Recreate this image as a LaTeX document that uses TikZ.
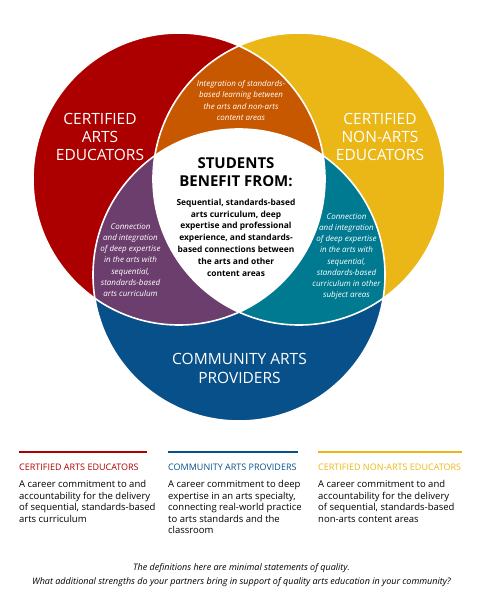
\documentclass[tikz,border=0pt]{standalone}
\usepackage{fontspec}
\setmainfont{Open Sans}
\usetikzlibrary{positioning}
\definecolor{artsred}{RGB}{172,0,0}
\definecolor{nonartsyellow}{RGB}{234,183,22}
\definecolor{commblue}{RGB}{8,80,138}
\definecolor{mixorange}{RGB}{200,88,0}
\definecolor{mixpurple}{RGB}{108,62,110}
\definecolor{mixteal}{RGB}{0,122,144}
\tikzset{
 biglabel/.style={text=white, align=center, inner sep=0, font=\fontsize{15.5}{18.3}\selectfont},
 overlap/.style={text=white, align=center, inner sep=0, font=\fontsize{8}{11.2}\selectfont\itshape},
 legendhead/.style={anchor=west, inner sep=0, font=\fontsize{9}{11}\selectfont},
 legendbody/.style={anchor=north west, align=left, inner sep=0, font=\fontsize{9.5}{11.5}\selectfont},
}
\begin{document}
\begin{tikzpicture}[x=1pt,y=-1pt]
\useasboundingbox (0,0) rectangle (477,607);
\coordinate (R) at (179,179);
\coordinate (Y) at (299,179);
\coordinate (B) at (239,275);
\fill[artsred] (R) circle (146pt);
\fill[nonartsyellow] (Y) circle (146pt);
\fill[commblue] (B) circle (146pt);
\begin{scope}
 \clip (R) circle (146pt);
 \fill[mixorange] (Y) circle (146pt);
 \fill[mixpurple] (B) circle (146pt);
\end{scope}
\begin{scope}
 \clip (Y) circle (146pt);
 \fill[mixteal] (B) circle (146pt);
 \clip (R) circle (146pt);
 \fill[white] (B) circle (146pt);
\end{scope}
\foreach \c in {R,Y,B}
 \draw[white, line width=1.6pt] (\c) circle (146pt);

\node[biglabel] (arts) at (100,137) {CERTIFIED\\ARTS\\EDUCATORS};
\node[biglabel] (nonarts) at (380,137) {CERTIFIED\\NON-ARTS\\EDUCATORS};
\node[biglabel] (community) at (239.5,368.5) {COMMUNITY ARTS\\PROVIDERS};
\node[align=center, inner sep=0, font=\fontsize{15}{18.5}\selectfont\bfseries] (students) at (236,172) {STUDENTS\\BENEFIT FROM:};
\node[align=center, inner sep=0, font=\fontsize{8.4}{11.8}\selectfont\bfseries] (benefits) at (236,237.5)
 {Sequential, standards-based\\arts curriculum, deep\\expertise and professional\\experience, and standards-\\based connections between\\the arts and other\\content areas};
\node[overlap] (artsnonarts) at (241,100.5) {Integration of standards-\\based learning between\\the arts and non-arts\\content areas};
\node[overlap] (artscommunity) at (130.5,260) {Connection\\and integration\\of deep expertise\\in the arts with\\sequential,\\standards-based\\arts curriculum};
\node[overlap] (nonartscommunity) at (346.5,256.5) {Connection\\and integration\\of deep expertise\\in the arts with\\sequential,\\standards-based\\curriculum in other\\subject areas};

\foreach \x/\w/\col in {19/128/artsred, 168/130/commblue, 318/144/nonartsyellow}
 \draw[\col, line width=2.5pt] (\x,452) --++(\w,0);
\node[legendhead, text=artsred] (artshead) at (19,467) {CERTIFIED ARTS EDUCATORS};
\node[legendhead, text=commblue] (commhead) at (168,467) {COMMUNITY ARTS PROVIDERS};
\node[legendhead, text=nonartsyellow] (nonartshead) at (318,467) {CERTIFIED NON-ARTS EDUCATORS};
\node[legendbody] (artsbody) at (19,480.5) {A career commitment to and\\accountability for the delivery\\of sequential, standards-based\\arts curriculum};
\node[legendbody] (commbody) at (168,480.5) {A career commitment to deep\\expertise in an arts specialty,\\connecting real-world practice\\to arts standards and the\\classroom};
\node[legendbody] (nonartsbody) at (318,480.5) {A career commitment to and\\accountability for the delivery\\of sequential, standards-based\\non-arts content areas};
\node[align=center, inner sep=0, font=\fontsize{9}{13.7}\selectfont\itshape] (footer) at (241.5,575)
 {The definitions here are minimal statements of quality.\\What additional strengths do your partners bring in support of quality arts education in your community?};
\end{tikzpicture}
\end{document}
